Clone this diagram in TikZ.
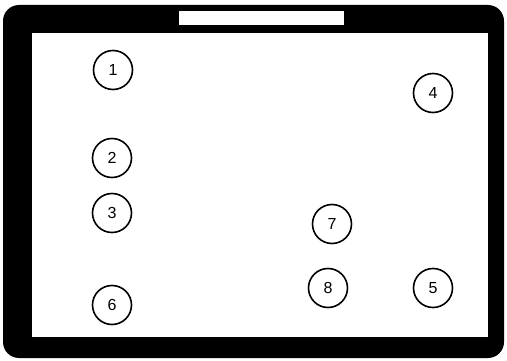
\documentclass[tikz,border=0pt]{standalone}
\usepackage{fontspec}
\setmainfont{Liberation Sans}
\usetikzlibrary{positioning}

\begin{document}
\begin{tikzpicture}[
    x=1pt, y=-1pt,
    marca/.style={
        draw,
        circle,
        line width=1.6pt,
        minimum size=39pt,
        inner sep=0pt,
        font=\fontsize{16}{16}\selectfont
    },
    moldura/.style={
        fill=black,
        rounded corners=16pt
    }
]

\useasboundingbox (0,0) rectangle (507,361);

% moldura da tela
\fill[moldura] (3,5) rectangle (504,358);
\fill[white] (32,33) rectangle (488,337);
\fill[white] (179,11) rectangle (344,25);

\node[marca] (m1) at (113,70) {1};
\node[marca] (m2) at (112,158) {2};
\node[marca] (m3) at (112,213) {3};
\node[marca] (m4) at (433,93) {4};
\node[marca] (m5) at (433,288) {5};
\node[marca] (m6) at (112,305) {6};
\node[marca] (m7) at (332,224) {7};
\node[marca] (m8) at (328,288) {8};

\end{tikzpicture}
\end{document}
